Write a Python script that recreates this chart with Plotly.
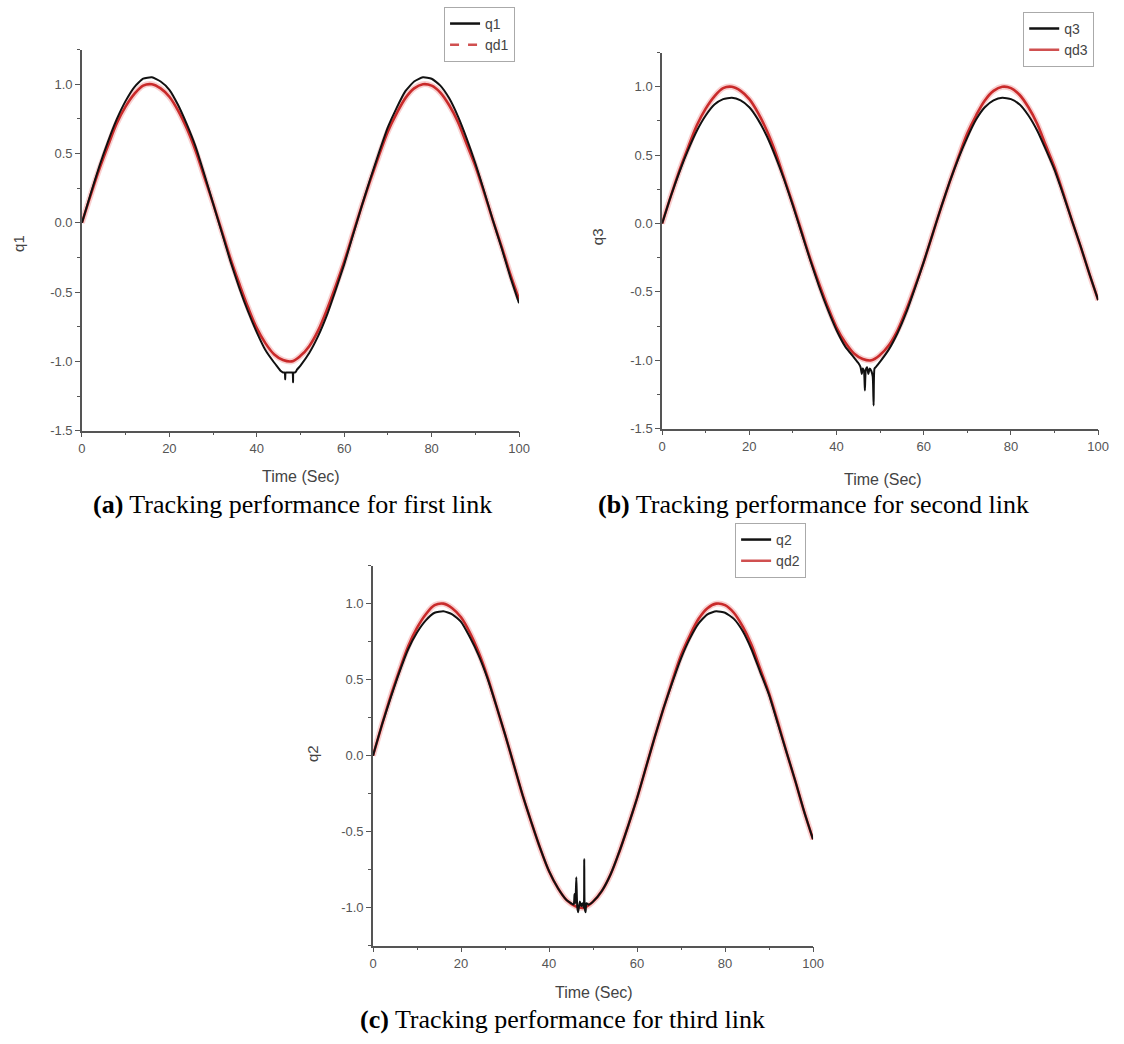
import plotly.graph_objects as go

W, H = 1124, 1044

# ---------------- data ----------------
t_ref = [0, 2, 4, 6, 8, 10, 12, 14, 16, 18, 20, 22, 24, 26, 28, 30, 32, 34, 36, 38,
         40, 42, 44, 46, 48, 50, 52, 54, 56, 58, 60, 62, 64, 66, 68, 70, 72, 74, 76,
         78, 80, 82, 84, 86, 88, 90, 92, 94, 96, 98, 100]

qd1 = [0.00, 0.20, 0.39, 0.56, 0.72, 0.84, 0.93, 0.99, 1.00, 0.97, 0.91, 0.81, 0.68,
       0.52, 0.33, 0.14, -0.06, -0.26, -0.44, -0.61, -0.76, -0.87, -0.95, -0.99, -1.00,
       -0.96, -0.89, -0.78, -0.63, -0.46, -0.28, -0.08, 0.12, 0.31, 0.49, 0.66, 0.79,
       0.90, 0.97, 1.00, 0.99, 0.94, 0.85, 0.73, 0.57, 0.41, 0.22, 0.02, -0.17, -0.37, -0.55]

qd3 = [0.00, 0.20, 0.39, 0.56, 0.72, 0.84, 0.93, 0.99, 1.00, 0.97, 0.91, 0.81, 0.68,
       0.52, 0.33, 0.14, -0.06, -0.26, -0.44, -0.61, -0.76, -0.87, -0.95, -0.99, -1.00,
       -0.96, -0.89, -0.78, -0.63, -0.46, -0.28, -0.08, 0.12, 0.31, 0.49, 0.66, 0.79,
       0.90, 0.97, 1.00, 0.99, 0.94, 0.85, 0.73, 0.57, 0.41, 0.22, 0.02, -0.17, -0.37, -0.56]

qd2 = [0.00, 0.20, 0.39, 0.56, 0.72, 0.84, 0.93, 0.99, 1.00, 0.97, 0.91, 0.81, 0.68,
       0.52, 0.33, 0.14, -0.06, -0.26, -0.44, -0.61, -0.76, -0.87, -0.95, -0.99, -1.00,
       -0.96, -0.89, -0.78, -0.63, -0.46, -0.28, -0.08, 0.12, 0.31, 0.49, 0.66, 0.79,
       0.90, 0.97, 1.00, 0.99, 0.94, 0.85, 0.73, 0.57, 0.41, 0.22, 0.02, -0.17, -0.37, -0.55]

t_q1 = [0, 2, 4, 6, 8, 10, 12, 14, 16, 18, 20, 22, 24, 26, 28, 30, 32, 34, 36, 38, 40, 42, 44,
        45, 45.5, 46, 46.4, 46.5, 46.6, 47, 47.5, 48, 48.2, 48.3, 48.4, 48.8, 49.2, 50,
        52, 54, 56, 58, 60, 62, 64, 66, 68, 70, 72, 74, 76, 78, 80, 82, 84, 86, 88, 90,
        92, 94, 96, 98, 100]
q1 = [0.00, 0.21, 0.41, 0.59, 0.75, 0.88, 0.98, 1.04, 1.05, 1.02, 0.96, 0.85, 0.71, 0.55,
      0.35, 0.14, -0.07, -0.28, -0.47, -0.64, -0.79, -0.92, -1.01,
      -1.05, -1.07, -1.08, -1.08, -1.13, -1.08, -1.08, -1.08, -1.08, -1.08, -1.15, -1.08,
      -1.08, -1.06, -1.03,
      -0.94, -0.82, -0.67, -0.49, -0.30, -0.09, 0.12, 0.32, 0.51, 0.69, 0.83, 0.95, 1.02,
      1.05, 1.04, 0.99, 0.90, 0.77, 0.61, 0.43, 0.23, 0.02, -0.18, -0.39, -0.58]

t_q3 = [0, 2, 4, 6, 8, 10, 12, 14, 16, 18, 20, 22, 24, 26, 28, 30, 32, 34, 36, 38, 40, 42, 44,
        45, 45.5, 45.8, 46, 46.3, 46.5, 46.7, 47, 47.3, 47.6, 48, 48.3, 48.5, 48.7, 49, 50,
        52, 54, 56, 58, 60, 62, 64, 66, 68, 70, 72, 74, 76, 78, 80, 82, 84, 86, 88, 90,
        92, 94, 96, 98, 100]
q3 = [0.00, 0.20, 0.38, 0.54, 0.68, 0.79, 0.87, 0.91, 0.92, 0.90, 0.85, 0.76, 0.64, 0.49,
      0.32, 0.13, -0.07, -0.27, -0.46, -0.63, -0.78, -0.90, -0.98,
      -1.02, -1.05, -1.10, -1.06, -1.08, -1.22, -1.07, -1.05, -1.10, -1.06, -1.08, -1.12,
      -1.33, -1.06, -1.05, -1.01,
      -0.92, -0.80, -0.65, -0.47, -0.28, -0.08, 0.12, 0.31, 0.48, 0.63, 0.76, 0.85, 0.90,
      0.92, 0.91, 0.87, 0.79, 0.68, 0.54, 0.39, 0.21, 0.02, -0.17, -0.37, -0.56]

t_q2 = [0, 2, 4, 6, 8, 10, 12, 14, 16, 18, 20, 22, 24, 26, 28, 30, 32, 34, 36, 38, 40, 42, 44,
        45, 45.6, 45.8, 46.0, 46.2, 46.4, 46.6, 47.0, 47.3, 47.6, 47.9, 48.0, 48.1, 48.3,
        48.5, 49, 50,
        52, 54, 56, 58, 60, 62, 64, 66, 68, 70, 72, 74, 76, 78, 80, 82, 84, 86, 88, 90,
        92, 94, 96, 98, 100]
q2 = [0.00, 0.20, 0.38, 0.55, 0.70, 0.81, 0.89, 0.94, 0.95, 0.93, 0.88, 0.78, 0.66, 0.51,
      0.33, 0.14, -0.06, -0.26, -0.44, -0.61, -0.76, -0.87, -0.95,
      -0.97, -0.98, -0.91, -0.97, -0.80, -0.99, -1.03, -0.96, -0.99, -0.97, -1.00, -0.68,
      -1.00, -1.03, -0.97, -0.98, -0.96,
      -0.89, -0.78, -0.63, -0.46, -0.28, -0.08, 0.12, 0.31, 0.48, 0.64, 0.77, 0.87, 0.93,
      0.95, 0.94, 0.90, 0.82, 0.70, 0.55, 0.40, 0.21, 0.02, -0.17, -0.37, -0.55]

x_ticks = [0, 20, 40, 60, 80, 100]
y_ticks_ab = [-1.5, -1.0, -0.5, 0.0, 0.5, 1.0]
y_ticks_c = [-1.0, -0.5, 0.0, 0.5, 1.0]
y_tick_text_ab = ["-1.5", "-1.0", "-0.5", "0.0", "0.5", "1.0"]
y_tick_text_c = ["-1.0", "-0.5", "0.0", "0.5", "1.0"]

captions = ["(a)", "(b)", "(c)"]
caption_texts = ["Tracking performance for first link",
                 "Tracking performance for second link",
                 "Tracking performance for third link"]

# ---------------- styling ----------------
RED = "#c92a2a"
BLACK = "#111111"
AX = "#555555"
TXT = "#555555"
SANS = "Liberation Sans, Arial, sans-serif"
SERIF = "Liberation Serif, Times New Roman, serif"


def px_x(p):
    return p / W


def px_y(p):
    return 1 - p / H


fig = go.Figure()

panels = [
    dict(ax="", t_b=t_q1, b=q1, r=qd1, bname="q1", rname="qd1", legend="legend", dash=True),
    dict(ax="2", t_b=t_q3, b=q3, r=qd3, bname="q3", rname="qd3", legend="legend2", dash=False),
    dict(ax="3", t_b=t_q2, b=q2, r=qd2, bname="q2", rname="qd2", legend="legend3", dash=False),
]

for p in panels:
    xa, ya = "x" + p["ax"], "y" + p["ax"]
    # soft halo of the red reference line
    fig.add_trace(go.Scatter(x=t_ref, y=p["r"], mode="lines", xaxis=xa, yaxis=ya,
                             line=dict(color="rgba(235,120,120,0.35)", width=6,
                                       shape="spline", smoothing=1),
                             showlegend=False, hoverinfo="skip"))
    fig.add_trace(go.Scatter(x=t_ref, y=p["r"], mode="lines", xaxis=xa, yaxis=ya,
                             line=dict(color=RED, width=2.6, shape="spline", smoothing=1),
                             showlegend=False))
    fig.add_trace(go.Scatter(x=p["t_b"], y=p["b"], mode="lines", xaxis=xa, yaxis=ya,
                             line=dict(color=BLACK, width=2, shape="spline", smoothing=0.5),
                             showlegend=False))
    # legend-only entries
    fig.add_trace(go.Scatter(x=[None], y=[None], mode="lines", xaxis=xa, yaxis=ya,
                             name=p["bname"], legend=p["legend"],
                             line=dict(color=BLACK, width=2.5)))
    fig.add_trace(go.Scatter(x=[None], y=[None], mode="lines", xaxis=xa, yaxis=ya,
                             name=p["rname"], legend=p["legend"],
                             line=dict(color="#d05050", width=2.5,
                                       dash="dash" if p["dash"] else "solid")))

# axes placement in pixels: (x_left, x_right, y_top, y_bottom)
boxes = [(79, 522, 50, 434), (667, 1109, 53, 432), (374, 820, 570, 953)]
yranges = [[-1.5, 1.25], [-1.5, 1.25], [-1.25, 1.25]]
ytv = [y_ticks_ab, y_ticks_ab, y_ticks_c]
ytt = [y_tick_text_ab, y_tick_text_ab, y_tick_text_c]

for i, (l, r, t, b) in enumerate(boxes):
    sfx = "" if i == 0 else str(i + 1)
    xkey, ykey = "xaxis" + sfx, "yaxis" + sfx
    anchor_x = "y" + sfx
    anchor_y = "x" + sfx
    common = dict(showline=True, linecolor=AX, linewidth=1.6, showgrid=False,
                  zeroline=False, ticks="outside", ticklen=5, tickwidth=1.4,
                  tickcolor=AX, tickfont=dict(family=SANS, size=13, color=TXT))
    fig.update_layout({
        xkey: dict(domain=[px_x(l), px_x(r)], anchor=anchor_x, range=[0, 100],
                   tickvals=x_ticks, ticktext=[str(v) for v in x_ticks],
                   minor=dict(ticks="outside", ticklen=3, dtick=10, tickcolor=AX, tickwidth=1.2),
                   **common),
        ykey: dict(domain=[px_y(b), px_y(t)], anchor=anchor_y, range=yranges[i],
                   tickvals=ytv[i], ticktext=ytt[i],
                   minor=dict(ticks="outside", ticklen=3, dtick=0.25, tickcolor=AX, tickwidth=1.2),
                   **common),
    })

leg_common = dict(bgcolor="white", bordercolor="#aaaaaa", borderwidth=1,
                  font=dict(family=SANS, size=14, color="#444444"),
                  itemwidth=30, tracegroupgap=0, xanchor="left", yanchor="top")
fig.update_layout(
    legend=dict(x=px_x(446), y=px_y(7), **leg_common),
    legend2=dict(x=px_x(1033), y=px_y(12), **leg_common),
    legend3=dict(x=px_x(741), y=px_y(527), **leg_common),
)

annotations = []
# axis titles
ytitle_pos = [(14, 245, "q1"), (601, 238, "q3"), (312, 759, "q2")]
for xp, yp, txt in ytitle_pos:
    annotations.append(dict(x=px_x(xp), y=px_y(yp), xref="paper", yref="paper",
                            xanchor="center", yanchor="middle",
                            text=txt, showarrow=False, textangle=-90,
                            font=dict(family=SANS, size=15, color="#444444")))
xtitle_pos = [(301, 480), (891, 483), (598, 1000)]
for xp, yp in xtitle_pos:
    annotations.append(dict(x=px_x(xp), y=px_y(yp), xref="paper", yref="paper",
                            xanchor="center", yanchor="middle",
                            text="Time (Sec)", showarrow=False,
                            font=dict(family=SANS, size=16, color="#444444")))
# captions
cap_pos = [(292, 508), (820, 508), (566, 1027)]
for (xp, yp), lab, txt in zip(cap_pos, captions, caption_texts):
    annotations.append(dict(x=px_x(xp), y=px_y(yp), xref="paper", yref="paper",
                            xanchor="center", yanchor="middle",
                            text="<b>" + lab + "</b> " + txt, showarrow=False,
                            font=dict(family=SERIF, size=26, color="#000000")))

fig.update_layout(
    width=W, height=H, autosize=False,
    margin=dict(l=0, r=0, t=0, b=0),
    paper_bgcolor="white", plot_bgcolor="white",
    annotations=annotations,
    showlegend=True,
)

fig.write_html("out.html")
